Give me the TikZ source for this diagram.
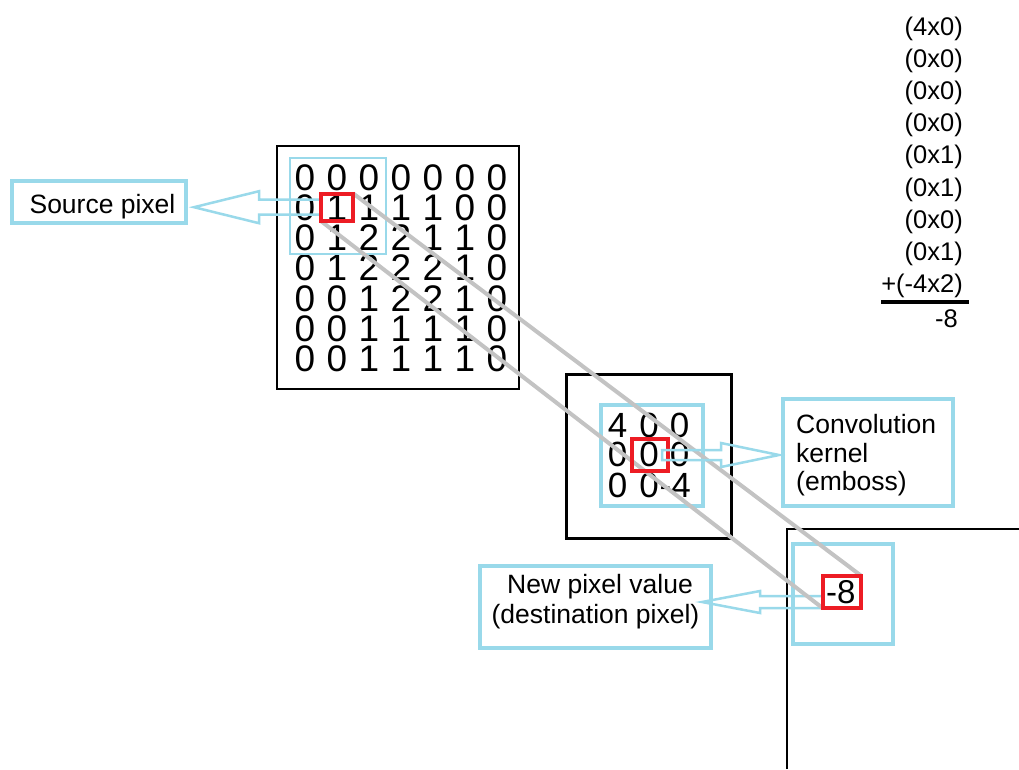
\documentclass[tikz,border=0pt]{standalone}
\usepackage{fontspec}
\setmainfont{Liberation Sans}
\usetikzlibrary{calc}
\definecolor{pcyan}{HTML}{99D9EA}
\definecolor{pred}{HTML}{ED1C24}
\definecolor{pgray}{HTML}{C3C3C3}
% hollow block arrow: #1 tail, #2 tip, #3 signed head length, #4 head half width, #5 shaft half width
\newcommand\hollowarrow[5]{%
  \draw[callarrow] let \p1=(#1), \p2=(#2) in
    (\x1,\y1+#5) -- (\x2+#3,\y1+#5) -- (\x2+#3,\y1+#4) -- (\x2,\y1)
    -- (\x2+#3,\y1-#4) -- (\x2+#3,\y1-#5) -- (\x1,\y1-#5) -- cycle;}
\begin{document}
\begin{tikzpicture}[x=1pt,y=-1pt,
  frame/.style={draw=black, line width=2.5pt, inner sep=0pt, rectangle},
  window/.style={draw=pcyan, line width=4pt, inner sep=0pt, rectangle},
  redbox/.style={draw=pred, line width=4pt, inner sep=0pt, rectangle},
  callbox/.style={draw=pcyan, line width=4pt, inner sep=0pt, rectangle},
  callarrow/.style={draw=pcyan, line width=2.5pt, line join=miter},
  grayline/.style={draw=pgray, line width=4pt},
  srcdigit/.style={inner sep=0pt, anchor=base, font=\fontsize{37}{37}\selectfont},
  kdigit/.style={inner sep=0pt, anchor=base, font=\fontsize{35}{35}\selectfont},
  ddigit/.style={inner sep=0pt, anchor=base west, font=\fontsize{33}{33}\selectfont},
  calctext/.style={inner sep=0pt, anchor=base east, font=\fontsize{25.5}{25.5}\selectfont},
  calltext/.style={inner sep=0pt, anchor=base, font=\fontsize{26.5}{26.5}\selectfont}]
\useasboundingbox (0,0) rectangle (1019,769);
\fill[white] (0,0) rectangle (1019,769);

% black frames
\node[frame, minimum width=242, minimum height=243] (srcmat) at (398,267.5) {};
\node[frame, minimum width=165, minimum height=164] (kmat) at (649,456.5) {};
\coordinate (dmatbl) at (787,769);
\coordinate (dmattl) at (787,529);
\coordinate (dmattr) at (1019,529);
\draw[line width=2.5pt] (dmatbl) -- (dmattl) -- (dmattr);

% source matrix digits
\foreach \row [count=\r] in {{0,0,0,0,0,0,0},{0,1,1,1,1,0,0},{0,1,2,2,1,1,0},{0,1,2,2,2,1,0},{0,0,1,2,2,1,0},{0,0,1,1,1,1,0},{0,0,1,1,1,1,0}}
  \foreach \d [count=\c] in \row
    \node[srcdigit] (s\r\c) at ({305+32*(\c-1)},{190+30.33*(\r-1)}) {\d};

% kernel digits
\node[kdigit] (k11) at (617.5,437) {4};
\node[kdigit] (k12) at (649,437) {0};
\node[kdigit] (k13) at (679.5,437) {0};
\node[kdigit] (k21) at (617.5,466) {0};
\node[kdigit] (k22) at (649,466) {0};
\node[kdigit] (k23) at (679.5,466) {0};
\node[kdigit] (k31) at (617.5,497) {0};
\node[kdigit] (k32) at (649,497) {0};
\node[kdigit, anchor=base east] (k33) at (691,497) {-4};

% destination value
\node[ddigit] (dval) at (826,603) {-8};

% calculation column
\foreach \t [count=\i] in {{(4x0)},{(0x0)},{(0x0)},{(0x0)},{(0x1)},{(0x1)},{(0x0)},{(0x1)},{+(-4x2)}}
  \node[calctext] (c\i) at (963,{35+32.2*(\i-1)}) {\t};
\coordinate (ulL) at (881,302);
\coordinate (ulR) at (969,302);
\draw[line width=4pt] (ulL) -- (ulR);
\node[calctext] (cres) at (958,327) {-8};

% cyan windows
\node[window, line width=2.5pt, minimum width=96, minimum height=96] (srcwin) at (338,206) {};
\node[window, minimum width=102, minimum height=101] (kwin) at (652,455.5) {};
\node[window, minimum width=100, minimum height=100] (dwin) at (843,594) {};

% callout boxes and texts
\node[callbox, minimum width=174, minimum height=42] (srccall) at (99,202) {};
\node[callbox, minimum width=170, minimum height=107] (kcall) at (868,452.5) {};
\node[callbox, minimum width=231, minimum height=82] (dcall) at (595.5,607) {};
\node[calltext] (srctext) at (102.5,213) {Source pixel};
\node[calltext, anchor=base west] (kt1) at (796,433) {Convolution};
\node[calltext, anchor=base west] (kt2) at (796,462) {kernel};
\node[calltext, anchor=base west] (kt3) at (796,490) {(emboss)};
\node[calltext] (dt1) at (600,593) {New pixel value};
\node[calltext] (dt2) at (595.5,623) {(destination pixel)};

% red boxes (placed first as coordinates for arrows)
\node[inner sep=0pt, minimum width=32, minimum height=27] (srcred) at (337,207.2) {};
\node[inner sep=0pt, minimum width=36, minimum height=32] (kred) at (650,455) {};
\node[inner sep=0pt, minimum width=38, minimum height=32] (dred) at (842,592) {};

% hollow arrows (source, destination)
\coordinate (srctip) at ($(srccall.east)+(6,0)$);
\hollowarrow{srcred.west}{srctip}{65pt}{16pt}{7.5pt}
\coordinate (dtail) at ($(dred.west)+(0,10)$);
\coordinate (dtip) at ($(dcall.east)+(-11,0)$);
\hollowarrow{dtail}{dtip}{58pt}{11pt}{6pt}

% gray projection lines
\draw[grayline] (srcred.north east) -- (dred.north east);
\draw[grayline] (srcred.south west) -- (dred.south west);

% red boxes drawn
\draw[draw=pred, line width=4pt] (srcred.south west) rectangle (srcred.north east);
\draw[draw=pred, line width=4pt] (kred.south west) rectangle (kred.north east);
\draw[draw=pred, line width=4pt] (dred.south west) rectangle (dred.north east);

% kernel arrow
\coordinate (ktail) at ($(kred.east)+(-6,0)$);
\coordinate (ktip) at ($(kcall.west)+(-2,0)$);
\hollowarrow{ktail}{ktip}{-58pt}{12pt}{5pt}
\end{tikzpicture}
\end{document}
